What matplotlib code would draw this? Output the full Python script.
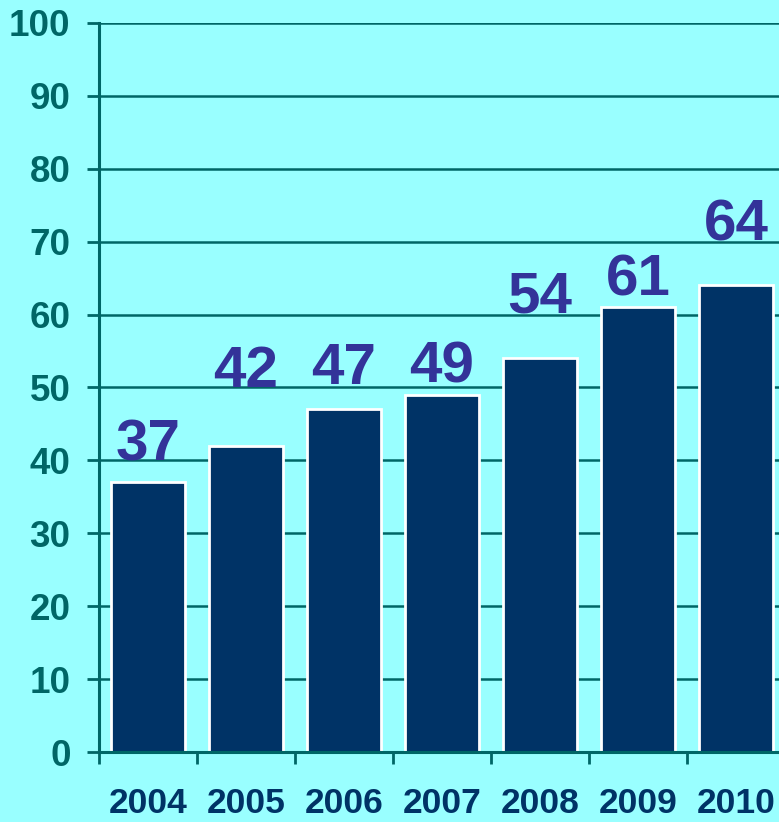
import numpy as np
import matplotlib
matplotlib.use('Agg')
import matplotlib.pyplot as plt
from matplotlib.ticker import MultipleLocator, FixedLocator

plt.rcParams['font.family'] = ['Liberation Sans', 'DejaVu Sans']
plt.rcParams['font.weight'] = 'bold'

years = ['2004', '2005', '2006', '2007', '2008', '2009', '2010']
values = [37, 42, 47, 49, 54, 61, 64]
# vertical gap (pixels) between the bar top and the label baseline, as placed on the slide
label_gap = [22, 59, 25, 12, 46, 12, 45]

BG = '#99ffff'
TEAL = '#006666'
NAVY = '#003366'
PURPLE = '#333399'

fig = plt.figure(figsize=(7.79, 8.22), dpi=100, facecolor=BG)
ax = fig.add_axes([99 / 779, 70 / 822, 686 / 779, 729 / 822])
ax.set_facecolor(BG)

x = np.arange(len(years))
bars = ax.bar(x, values, width=0.755, color=NAVY, edgecolor='white', linewidth=2, zorder=3)

for xi, v, g in zip(x, values, label_gap):
    ax.annotate(str(v), (xi, v), xytext=(0, g), textcoords='offset pixels',
                ha='center', va='baseline', fontsize=42, fontweight='bold',
                color=PURPLE, zorder=4)

ax.set_xlim(-0.5, len(years) - 0.5)
ax.set_ylim(0, 100)
ax.yaxis.set_major_locator(MultipleLocator(10))
ax.grid(axis='y', color=TEAL, linewidth=1.8, zorder=1)
ax.set_axisbelow(True)

ax.set_xticks(x)
ax.set_xticklabels(years)
ax.xaxis.set_minor_locator(FixedLocator(np.arange(-0.5, len(years), 1.0)))
ax.tick_params(axis='x', which='major', length=0, pad=25, labelsize=25.5, labelcolor=NAVY)
ax.tick_params(axis='x', which='minor', length=8.5, width=2, color=TEAL, direction='out')
ax.tick_params(axis='y', length=8.5, width=2, color=TEAL, pad=12, labelsize=26.5, labelcolor=TEAL)
for lbl in ax.get_xticklabels() + ax.get_yticklabels():
    lbl.set_fontweight('bold')

for side in ['top', 'right']:
    ax.spines[side].set_visible(False)
for side in ['left', 'bottom']:
    ax.spines[side].set_color(TEAL)
    ax.spines[side].set_linewidth(2.2)
    ax.spines[side].set_zorder(5)

fig.savefig('out.png', dpi=100, facecolor=BG)
